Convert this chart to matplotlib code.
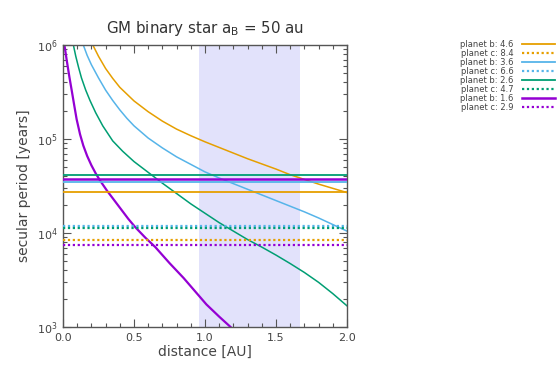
import numpy as np
import matplotlib
matplotlib.use('Agg')
import matplotlib.pyplot as plt
from matplotlib.ticker import LogLocator, MultipleLocator, NullFormatter, FormatStrFormatter

# colours (gnuplot-like palette)
ORANGE = '#e69f00'
SKY = '#56b4e9'
TEAL = '#009e73'
PURPLE = '#9400d3'

# secular period curves: distance [AU] -> log10(period [years])
orange_x = [0.21, 0.25, 0.30, 0.35, 0.40, 0.50, 0.60, 0.70, 0.80, 0.90, 1.00,
            1.10, 1.20, 1.30, 1.40, 1.50, 1.60, 1.70, 1.80, 1.90, 2.00]
orange_logp = [6.00, 5.88, 5.75, 5.645, 5.55, 5.405, 5.29, 5.19, 5.105, 5.035, 4.97,
               4.91, 4.85, 4.79, 4.735, 4.68, 4.62, 4.57, 4.52, 4.475, 4.43]

sky_x = [0.143, 0.17, 0.20, 0.25, 0.30, 0.35, 0.40, 0.45, 0.50, 0.60, 0.70, 0.80,
         0.90, 1.00, 1.10, 1.20, 1.30, 1.40, 1.50, 1.60, 1.70, 1.80, 1.90, 2.00]
sky_logp = [6.00, 5.89, 5.79, 5.65, 5.52, 5.41, 5.31, 5.22, 5.14, 5.01, 4.905, 4.81,
            4.73, 4.65, 4.585, 4.525, 4.465, 4.405, 4.345, 4.285, 4.225, 4.16, 4.09, 4.02]

teal_x = [0.073, 0.09, 0.11, 0.13, 0.16, 0.19, 0.23, 0.28, 0.35, 0.42, 0.50, 0.60,
          0.70, 0.80, 0.90, 1.00, 1.10, 1.20, 1.30, 1.40, 1.50, 1.60, 1.70, 1.80, 1.90, 2.00]
teal_logp = [6.00, 5.88, 5.76, 5.65, 5.52, 5.41, 5.28, 5.14, 4.98, 4.87, 4.76, 4.645,
             4.53, 4.42, 4.31, 4.21, 4.11, 4.02, 3.93, 3.85, 3.765, 3.675, 3.58, 3.475, 3.355, 3.225]

purple_x = [0.010, 0.026, 0.045, 0.061, 0.08, 0.096, 0.12, 0.143, 0.17, 0.20, 0.23,
            0.26, 0.31, 0.36, 0.41, 0.46, 0.51, 0.58, 0.65, 0.75, 0.85, 0.93, 1.01, 1.10, 1.18]
purple_logp = [6.00, 5.84, 5.66, 5.52, 5.35, 5.21, 5.05, 4.93, 4.82, 4.72, 4.635,
               4.56, 4.45, 4.35, 4.25, 4.15, 4.06, 3.95, 3.85, 3.68, 3.52, 3.38, 3.24, 3.11, 3.00]

# horizontal secular periods (years)
labels = ['planet b: 4.6', 'planet c: 8.4', 'planet b: 3.6', 'planet c: 6.6',
          'planet b: 2.6', 'planet c: 4.7', 'planet b: 1.6', 'planet c: 2.9']
periods = [27300, 8500, 34600, 11800, 41400, 11400, 37500, 7450]
colors = [ORANGE, ORANGE, SKY, SKY, TEAL, TEAL, PURPLE, PURPLE]

# habitable zone shading
hz_lo, hz_hi = 0.96, 1.67

fig = plt.figure(figsize=(5.58, 3.69), dpi=100)
ax = fig.add_axes([63 / 558, 1 - 327 / 369, (347 - 63) / 558, (327 - 45) / 369])

ax.axvspan(hz_lo, hz_hi, color='#e2e2fb', zorder=0, lw=0)

curves = [(orange_x, orange_logp, ORANGE, 1.1),
          (sky_x, sky_logp, SKY, 1.1),
          (teal_x, teal_logp, TEAL, 1.1),
          (purple_x, purple_logp, PURPLE, 1.6)]
for xs, lp, c, lw in curves:
    ax.plot(xs, 10 ** np.array(lp), color=c, lw=lw, zorder=2)

handles = []
for lab, p, c in zip(labels, periods, colors):
    solid = lab.startswith('planet b')
    if solid:
        lw = 1.8 if c == PURPLE else 1.3
        ls = '-'
    else:
        lw = 1.6
        ls = (0, (1, 1.2))
    h, = ax.plot([0, 2], [p, p], color=c, lw=lw, ls=ls, label=lab, zorder=3)
    handles.append(h)

ax.set_xlim(0, 2)
ax.set_ylim(1e3, 1e6)
ax.set_yscale('log')
ax.xaxis.set_major_locator(MultipleLocator(0.5))
ax.xaxis.set_minor_locator(MultipleLocator(0.1))
ax.xaxis.set_major_formatter(FormatStrFormatter('%.1f'))
ax.yaxis.set_major_locator(LogLocator(base=10, numticks=10))
ax.yaxis.set_minor_locator(LogLocator(base=10, subs=np.arange(2, 10), numticks=10))
ax.yaxis.set_minor_formatter(NullFormatter())

ax.tick_params(which='both', direction='in', top=True, right=True, colors='#555555',
               labelcolor='#444444', labelsize=8)
ax.tick_params(which='major', length=6, width=0.8, pad=4)
ax.tick_params(which='minor', length=3, width=0.8)
for s in ax.spines.values():
    s.set_color('#555555')
    s.set_linewidth(1.0)

ax.set_xlabel('distance [AU]', fontsize=10, color='#444444', labelpad=2)
ax.set_ylabel('secular period [years]', fontsize=10, color='#444444', labelpad=4)
ax.set_title(r'GM binary star a$_\mathrm{B}$ = 50 au', fontsize=10.8, color='#333333', pad=9)

leg = fig.legend(handles=handles, loc='upper right', bbox_to_anchor=(555 / 558, 1 - 40 / 369),
                 frameon=False, fontsize=6, markerfirst=False, labelspacing=0.0,
                 handlelength=4.0, handletextpad=1.0, borderaxespad=0, borderpad=0)
for t in leg.get_texts():
    t.set_color('#444444')

fig.savefig('out.png', dpi=100)
